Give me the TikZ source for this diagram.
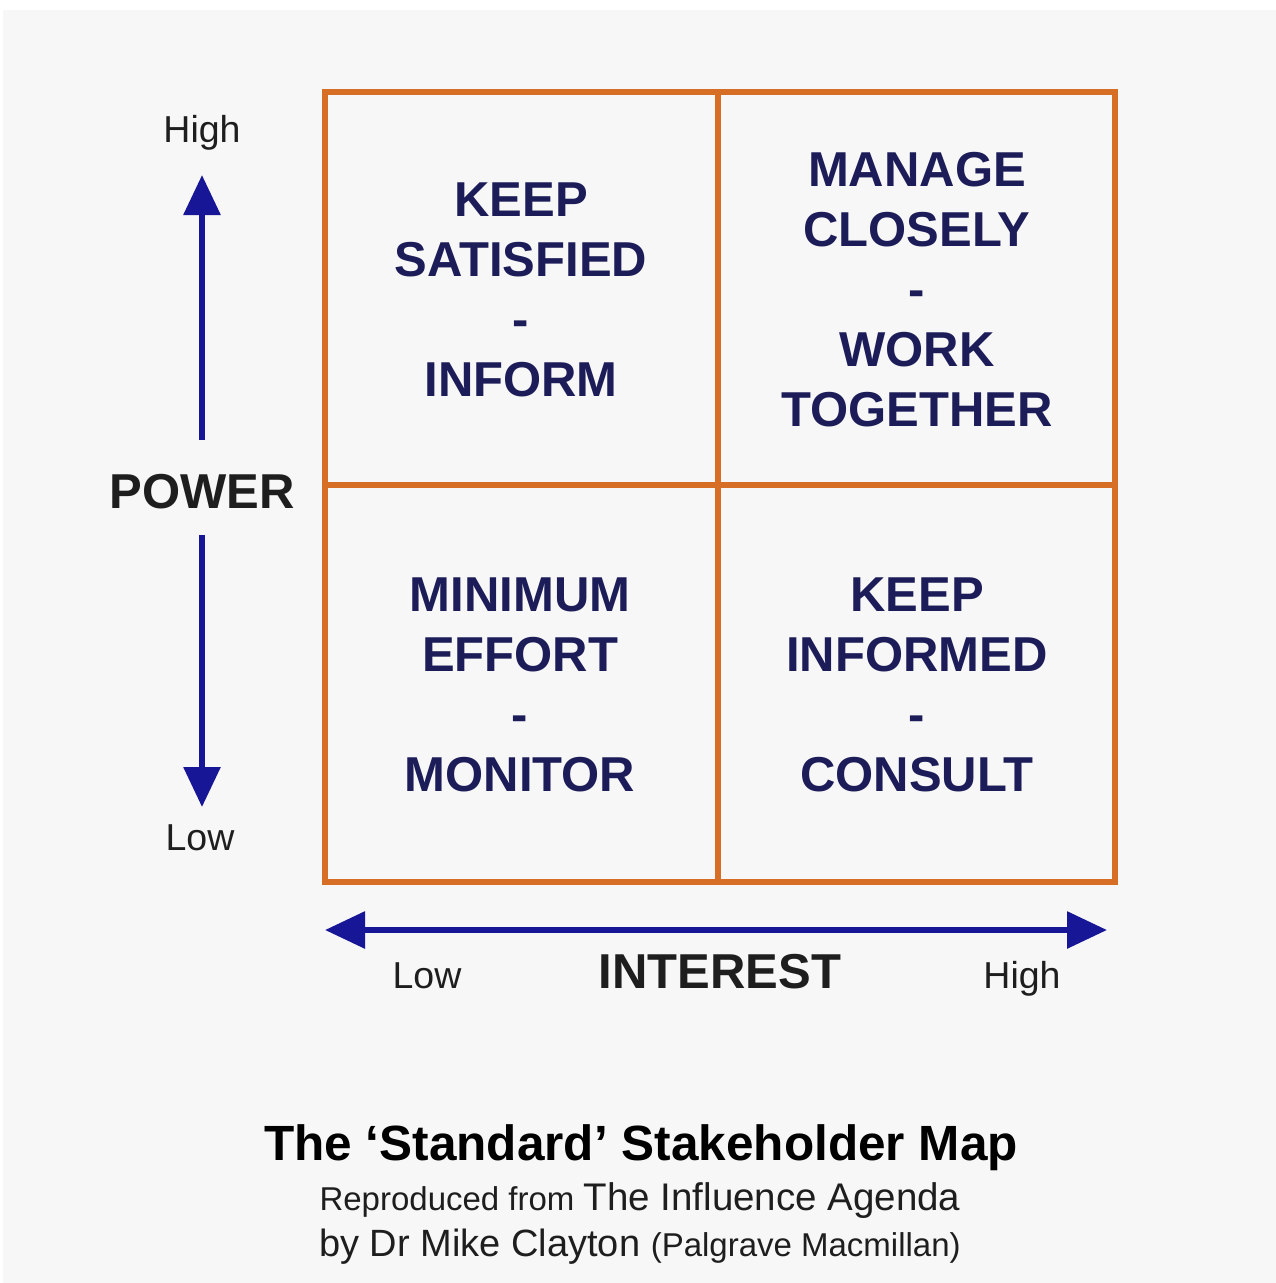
\documentclass[tikz,border=0pt]{standalone}
\usepackage{fontspec}
\setmainfont{Liberation Sans}
\usetikzlibrary{arrows.meta}
\definecolor{bgc}{RGB}{247,247,247}
\definecolor{gridc}{RGB}{214,110,38}
\definecolor{quadc}{RGB}{28,28,88}
\definecolor{arrc}{RGB}{22,22,150}
\definecolor{labc}{RGB}{30,30,30}
\tikzset{
  quad/.style={anchor=north, inner sep=0pt, align=center, text=quadc,
    font=\fontsize{49}{60}\selectfont\bfseries},
  axisbig/.style={anchor=base, inner sep=0pt, text=labc,
    font=\fontsize{49}{60}\selectfont\bfseries},
  axissmall/.style={anchor=base, inner sep=0pt, text=labc,
    font=\fontsize{37.5}{45}\selectfont},
  gridline/.style={draw=gridc, line width=6pt},
  axisarrow/.style={draw=arrc, line width=6pt,
    -{Triangle[length=40pt,width=36pt]}, shorten >=-2pt},
}
\begin{document}
\begin{tikzpicture}[x=1pt,y=-1pt]
\useasboundingbox (0,0) rectangle (1276,1283);
\fill[white] (0,0) rectangle (1276,1283);
\fill[bgc] (3,10) rectangle (1276,1283);
% grid
\coordinate (g1) at (325,92);
\coordinate (g2) at (1115,882);
\coordinate (mt) at (718,92);
\coordinate (mb) at (718,882);
\coordinate (ml) at (325,485);
\coordinate (mr) at (1115,485);
\draw[gridline] (g1) rectangle (g2);
\draw[gridline] (mt) -- (mb);
\draw[gridline] (ml) -- (mr);
% quadrant texts
\node[quad] (tl) at (521,183) {KEEP\\SATISFIED\\-\\INFORM};
\node[quad] (tr) at (917,152) {MANAGE\\CLOSELY\\-\\WORK\\TOGETHER};
\node[quad] (bl) at (520,578) {MINIMUM\\EFFORT\\-\\MONITOR};
\node[quad] (br) at (917,578) {KEEP\\INFORMED\\-\\CONSULT};
% power axis
\node[axissmall] (phigh) at (202,142) {High};
\node[axissmall] (plow) at (200,850) {Low};
\node[axisbig] (power) at (202,508) {POWER};
\coordinate (pu1) at (202,440);
\coordinate (pu2) at (202,177);
\coordinate (pd1) at (202,535);
\coordinate (pd2) at (202,805);
\draw[axisarrow] (pu1) -- (pu2);
\draw[axisarrow] (pd1) -- (pd2);
% interest axis
\coordinate (ic) at (716,930);
\coordinate (il) at (327,930);
\coordinate (ir) at (1105,930);
\draw[axisarrow] (ic) -- (il);
\draw[axisarrow] (ic) -- (ir);
\node[axissmall] (ilow) at (427,988) {Low};
\node[axisbig] (interest) at (720,988) {INTEREST};
\node[axissmall] (ihigh) at (1022,988) {High};
% caption
\node[anchor=base, inner sep=0pt, text=black, font=\fontsize{49.5}{55}\selectfont\bfseries] (title) at (641,1160) {The ‘Standard’ Stakeholder Map};
\node[anchor=base, inner sep=0pt, text=labc] (sub1) at (640,1210) {{\fontsize{33}{40}\selectfont Reproduced from }{\fontsize{38.5}{45}\selectfont The Influence Agenda}};
\node[anchor=base, inner sep=0pt, text=labc] (sub2) at (640,1256) {{\fontsize{38}{45}\selectfont by Dr Mike Clayton }{\fontsize{33}{40}\selectfont (Palgrave Macmillan)}};
\end{tikzpicture}
\end{document}
